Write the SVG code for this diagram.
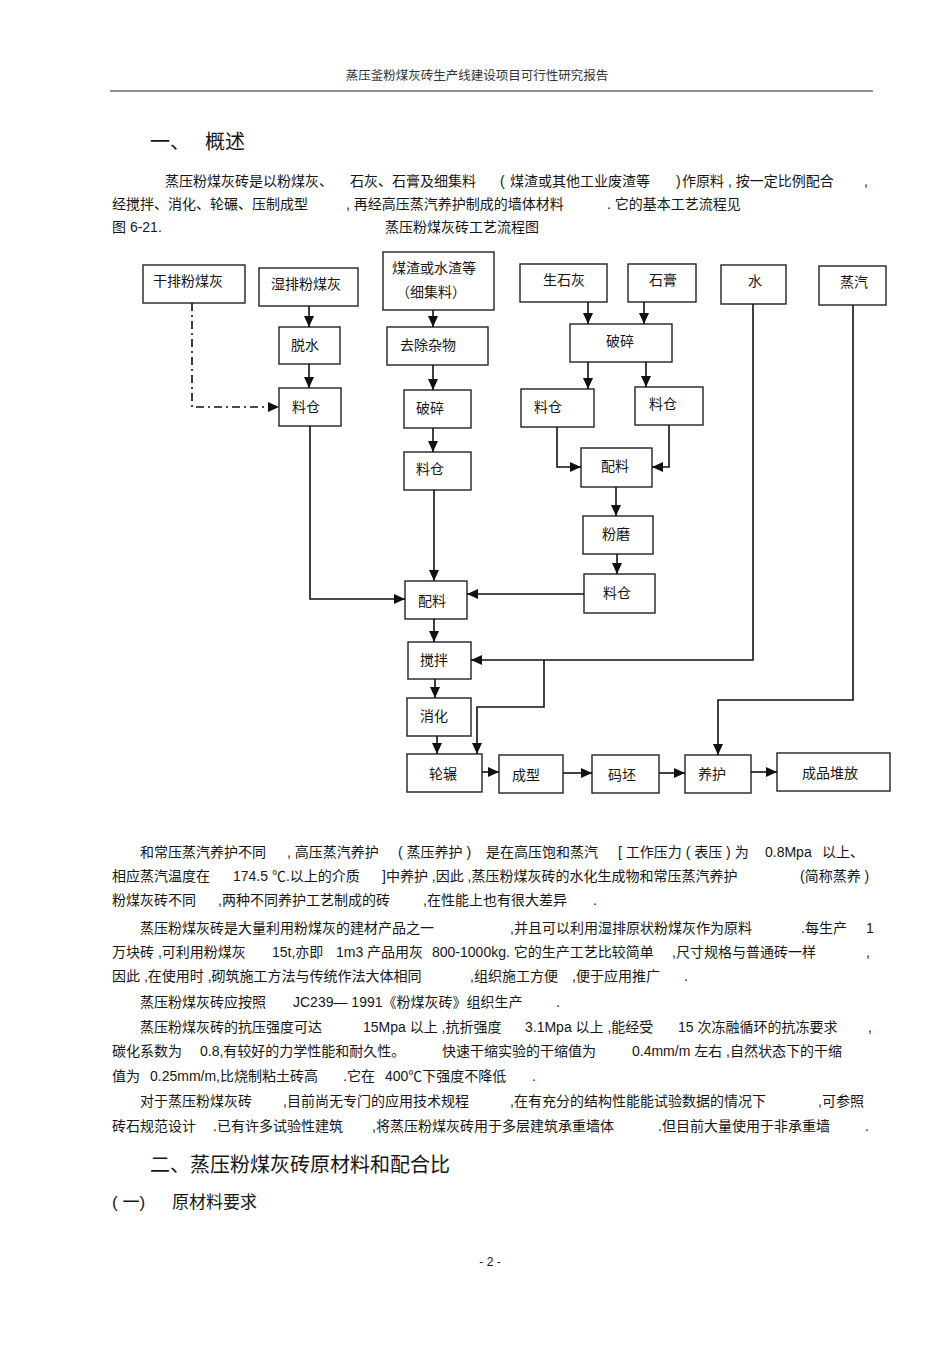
<svg xmlns="http://www.w3.org/2000/svg" width="950" height="1345" viewBox="0 0 950 1345">
<defs>
<marker id="ah" markerUnits="userSpaceOnUse" markerWidth="12" markerHeight="10" viewBox="0 0 12 10" refX="11" refY="5" orient="auto">
<path d="M0,0 L11,5 L0,10 Z" fill="#111"/>
</marker>
</defs>
<style>
.t{font-family:"Liberation Sans","Noto Sans CJK SC",sans-serif;font-size:14px;fill:#161616}
.b{font-family:"Noto Sans CJK SC",sans-serif;font-size:14px;fill:#161616}
.box{fill:#fff;stroke:#222;stroke-width:1.4}
.c{fill:none;stroke:#111;stroke-width:1.6}
.a{marker-end:url(#ah)}
.h{font-family:"Noto Sans CJK SC",sans-serif;font-size:20px;fill:#161616}
</style>
<rect width="950" height="1345" fill="#fff"/>
<text class="b" x="477" y="80" text-anchor="middle" style="font-size:12.5px;fill:#333">蒸压釜粉煤灰砖生产线建设项目可行性研究报告</text>
<line x1="110" y1="91" x2="873" y2="91" stroke="#222" stroke-width="1.2"/>
<text class="h" x="150" y="149">一、</text>
<text class="h" x="205" y="149">概述</text>
<g class="t">
<text y="186"><tspan x="165">蒸压粉煤灰砖是以粉煤灰、</tspan><tspan x="350">石灰、石膏及细集料</tspan><tspan x="500">(</tspan><tspan x="510">煤渣或其他工业废渣等</tspan><tspan x="676">)</tspan><tspan x="682">作原料 , 按一定比例配合</tspan><tspan x="864">,</tspan></text>
<text y="209"><tspan x="112">经搅拌、消化、轮碾、压制成型</tspan><tspan x="346">, 再经高压蒸汽养护制成的墙体材料</tspan><tspan x="607">. 它的基本工艺流程见</tspan></text>
<text y="232"><tspan x="112">图  6-21.</tspan><tspan x="385">蒸压粉煤灰砖工艺流程图</tspan></text>
</g>
<g id="n_gpfmh"><rect class="box" x="143" y="265" width="102" height="38"/><text class="b" x="153" y="286">干排粉煤灰</text></g>
<g id="n_spfmh"><rect class="box" x="259" y="268" width="99" height="38"/><text class="b" x="271" y="289">湿排粉煤灰</text></g>
<g id="n_mz"><rect class="box" x="383" y="252" width="111" height="58"/><text class="b" x="392" y="273">煤渣或水渣等</text><text class="b" x="396" y="297">（细集料）</text></g>
<g id="n_ts"><rect class="box" x="279" y="327" width="61" height="37"/><text class="b" x="291" y="350">脱水</text></g>
<g id="n_qczw"><rect class="box" x="387" y="327" width="101" height="38"/><text class="b" x="400" y="350">去除杂物</text></g>
<g id="n_lc1"><rect class="box" x="279" y="388" width="62" height="38"/><text class="b" x="292" y="412">料仓</text></g>
<g id="n_ps1"><rect class="box" x="404" y="390" width="67" height="38"/><text class="b" x="416" y="413">破碎</text></g>
<g id="n_lc2"><rect class="box" x="404" y="452" width="67" height="38"/><text class="b" x="416" y="474">料仓</text></g>
<g id="n_ssh"><rect class="box" x="520" y="264" width="87" height="38"/><text class="b" x="543" y="285">生石灰</text></g>
<g id="n_sg"><rect class="box" x="628" y="264" width="68" height="38"/><text class="b" x="649" y="285">石膏</text></g>
<g id="n_s"><rect class="box" x="721" y="265" width="65" height="39"/><text class="b" x="748" y="286">水</text></g>
<g id="n_zq"><rect class="box" x="819" y="266" width="67" height="39"/><text class="b" x="840" y="287">蒸汽</text></g>
<g id="n_ps2"><rect class="box" x="570" y="324" width="102" height="38"/><text class="b" x="606" y="346">破碎</text></g>
<g id="n_lc3"><rect class="box" x="521" y="389" width="73" height="38"/><text class="b" x="534" y="412">料仓</text></g>
<g id="n_lc4"><rect class="box" x="635" y="387" width="68" height="38"/><text class="b" x="649" y="409">料仓</text></g>
<g id="n_pl1"><rect class="box" x="581" y="448" width="71" height="39"/><text class="b" x="601" y="471">配料</text></g>
<g id="n_fm"><rect class="box" x="583" y="516" width="70" height="38"/><text class="b" x="602" y="539">粉磨</text></g>
<g id="n_lc5"><rect class="box" x="584" y="574" width="71" height="39"/><text class="b" x="603" y="598">料仓</text></g>
<g id="n_pl2"><rect class="box" x="405" y="581" width="62" height="38"/><text class="b" x="418" y="606">配料</text></g>
<g id="n_jb"><rect class="box" x="408" y="642" width="63" height="37"/><text class="b" x="420" y="665">搅拌</text></g>
<g id="n_xh"><rect class="box" x="407" y="698" width="64" height="38"/><text class="b" x="420" y="721">消化</text></g>
<g id="n_ln"><rect class="box" x="407" y="754" width="75" height="38"/><text class="b" x="429" y="779">轮辗</text></g>
<g id="n_cx"><rect class="box" x="499" y="755" width="64" height="38"/><text class="b" x="512" y="780">成型</text></g>
<g id="n_mp"><rect class="box" x="592" y="755" width="67" height="38"/><text class="b" x="608" y="780">码坯</text></g>
<g id="n_yh"><rect class="box" x="685" y="755" width="66" height="38"/><text class="b" x="698" y="779">养护</text></g>
<g id="n_cpdf"><rect class="box" x="777" y="753" width="113" height="38"/><text class="b" x="802" y="778">成品堆放</text></g>
<g id="connectors">
<path class="c a" d="M192,303 V407 H279" stroke-dasharray="8,4,2,4"/>
<path class="c a" d="M309,306 V327"/>
<path class="c a" d="M309,364 V388"/>
<path class="c a" d="M310,426 V599 H405"/>
<path class="c a" d="M433,310 V327"/>
<path class="c a" d="M433,365 V390"/>
<path class="c a" d="M433,428 V452"/>
<path class="c a" d="M434,490 V581"/>
<path class="c a" d="M588,302 V324"/>
<path class="c a" d="M644,302 V324"/>
<path class="c a" d="M588,362 V389"/>
<path class="c a" d="M646,362 V387"/>
<path class="c a" d="M557,427 V467 H581"/>
<path class="c a" d="M669,425 V467 H652"/>
<path class="c a" d="M616,487 V516"/>
<path class="c a" d="M617,554 V574"/>
<path class="c a" d="M584,594 H467"/>
<path class="c a" d="M434,619 V642"/>
<path class="c a" d="M753,304 V660 H471"/>
<path class="c a" d="M544,660 V707 H477 V754"/>
<path class="c a" d="M435,679 V698"/>
<path class="c a" d="M437,736 V754"/>
<path class="c a" d="M853,305 V700 H718 V755"/>
<path class="c a" d="M482,772 H499"/>
<path class="c a" d="M563,773 H592"/>
<path class="c a" d="M659,773 H685"/>
<path class="c a" d="M751,772 H777"/>
</g>
<g class="t">
<text y="857"><tspan x="140">和常压蒸汽养护不同</tspan><tspan x="287">, 高压蒸汽养护</tspan><tspan x="398">( 蒸压养护 )</tspan><tspan x="486">是在高压饱和蒸汽</tspan><tspan x="618">[ 工作压力 ( 表压 ) 为</tspan><tspan x="765">0.8Mpa</tspan><tspan x="822">以上、</tspan></text>
<text y="881"><tspan x="112">相应蒸汽温度在</tspan><tspan x="233">174.5 ℃.以上的介质</tspan><tspan x="382">]中养护 ,因此 ,蒸压粉煤灰砖的水化生成物和常压蒸汽养护</tspan><tspan x="800">(简称蒸养 )</tspan></text>
<text y="905"><tspan x="112">粉煤灰砖不同</tspan><tspan x="218">,两种不同养护工艺制成的砖</tspan><tspan x="423">,在性能上也有很大差异</tspan><tspan x="593">.</tspan></text>
<text y="933"><tspan x="140">蒸压粉煤灰砖是大量利用粉煤灰的建材产品之一</tspan><tspan x="510">,并且可以利用湿排原状粉煤灰作为原料</tspan><tspan x="801">.每生产</tspan><tspan x="866">1</tspan></text>
<text y="957"><tspan x="112">万块砖 ,可利用粉煤灰</tspan><tspan x="272">15t,亦即</tspan><tspan x="336">1m3 产品用灰</tspan><tspan x="432">800-1000kg. 它的生产工艺比较简单</tspan><tspan x="672">,尺寸规格与普通砖一样</tspan><tspan x="866">,</tspan></text>
<text y="981"><tspan x="112">因此 ,在使用时 ,砌筑施工方法与传统作法大体相同</tspan><tspan x="470">,组织施工方便</tspan><tspan x="572">,便于应用推广</tspan><tspan x="684">.</tspan></text>
<text y="1007"><tspan x="140">蒸压粉煤灰砖应按照</tspan><tspan x="293">JC239— 1991《粉煤灰砖》组织生产</tspan><tspan x="556">.</tspan></text>
<text y="1032"><tspan x="140">蒸压粉煤灰砖的抗压强度可达</tspan><tspan x="363">15Mpa 以上 ,抗折强度</tspan><tspan x="525">3.1Mpa 以上 ,能经受</tspan><tspan x="678">15 次冻融循环的抗冻要求</tspan><tspan x="868">,</tspan></text>
<text y="1056"><tspan x="112">碳化系数为</tspan><tspan x="200">0.8,有较好的力学性能和耐久性。</tspan><tspan x="442">快速干缩实验的干缩值为</tspan><tspan x="632">0.4mm/m 左右 ,自然状态下的干缩</tspan></text>
<text y="1081"><tspan x="112">值为</tspan><tspan x="150">0.25mm/m,比烧制粘土砖高</tspan><tspan x="343">.它在</tspan><tspan x="385">400℃下强度不降低</tspan><tspan x="532">.</tspan></text>
<text y="1106"><tspan x="140">对于蒸压粉煤灰砖</tspan><tspan x="283">,目前尚无专门的应用技术规程</tspan><tspan x="510">,在有充分的结构性能能试验数据的情况下</tspan><tspan x="818">,可参照</tspan></text>
<text y="1131"><tspan x="112">砖石规范设计</tspan><tspan x="213">.已有许多试验性建筑</tspan><tspan x="372">,将蒸压粉煤灰砖用于多层建筑承重墙体</tspan><tspan x="658">.但目前大量使用于非承重墙</tspan><tspan x="865">.</tspan></text>
</g>
<text class="h" x="150" y="1172">二、蒸压粉煤灰砖原材料和配合比</text>
<text class="t" y="1208" style="font-size:17px"><tspan x="112">( 一)</tspan><tspan x="172">原材料要求</tspan></text>
<text class="t" x="490" y="1266" text-anchor="middle" style="font-size:12px">- 2 -</text>
</svg>
